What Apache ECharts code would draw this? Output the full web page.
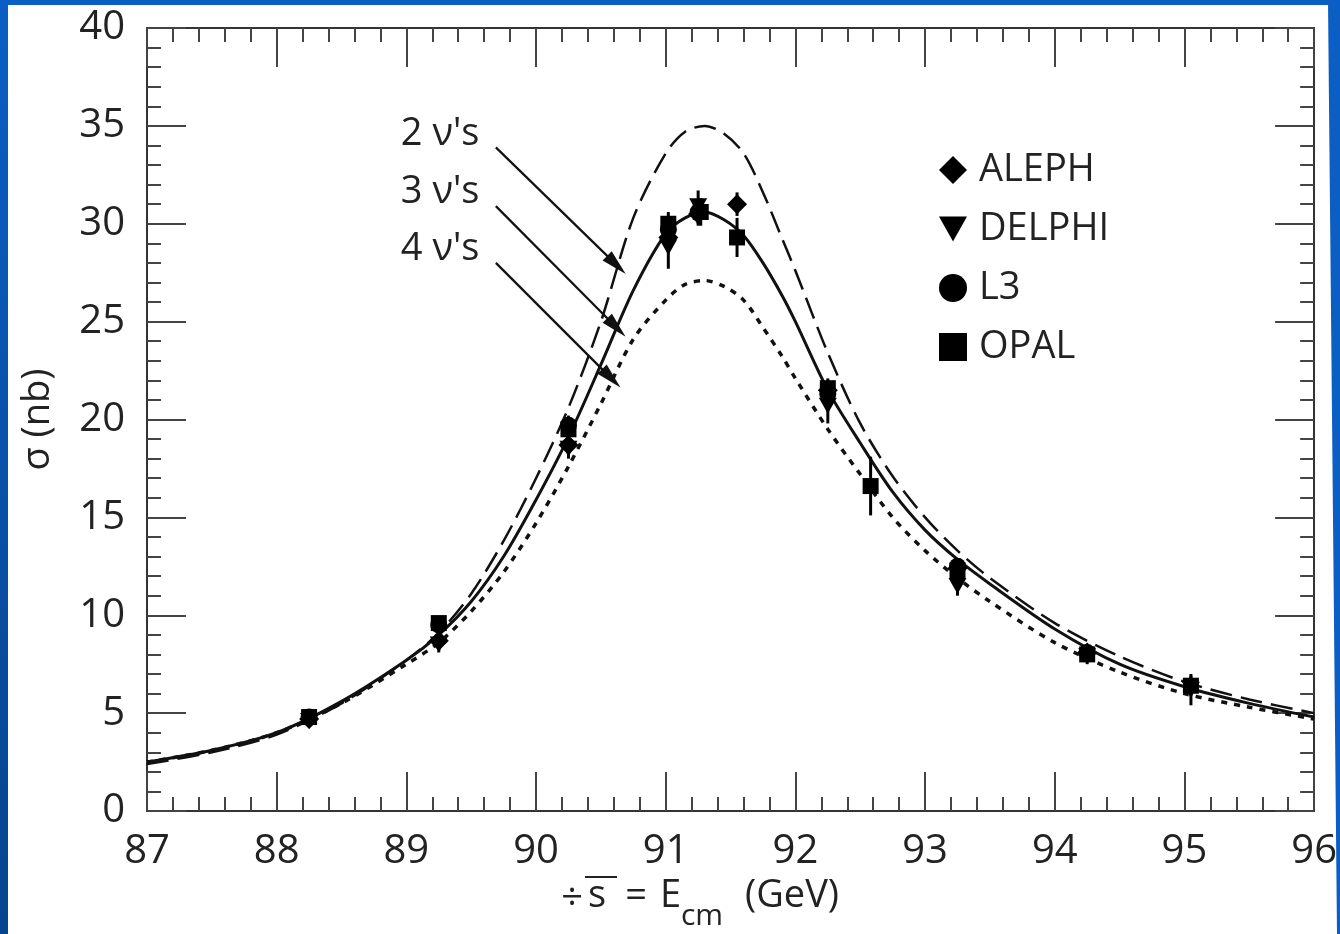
<!DOCTYPE html>
<html><head><meta charset="utf-8">
<script src="https://cdn.jsdelivr.net/npm/echarts@6/dist/echarts.min.js"></script>
<style>html,body{margin:0;padding:0;background:#fff;}#c{width:1340px;height:934px;}</style>
</head><body><div id="c"></div>
<script>
// Energy grid (GeV) for the theory curves
const energyGrid = [87, 87.5, 88, 88.5, 89, 89.25, 89.5, 89.75, 90, 90.25, 90.5, 90.75, 91, 91.15, 91.3, 91.45, 91.6, 91.75, 91.9, 92, 92.25, 92.5, 92.75, 93, 93.25, 93.5, 94, 94.5, 95, 95.5, 96];
// Cross sections (nb) for 2, 3, 4 neutrino species
const sigma2nu = [2.4, 3.0, 3.9, 5.5, 7.7, 9.1, 11.1, 13.8, 17.0, 20.6, 25.0, 30.3, 33.6, 34.7, 35.0, 34.6, 33.6, 31.6, 29.2, 27.6, 23.4, 19.8, 17.1, 15.0, 13.3, 11.9, 9.6, 7.9, 6.6, 5.7, 5.0];
const sigma3nu = [2.5, 3.1, 4.0, 5.6, 7.7, 9.0, 10.7, 13.0, 15.9, 19.1, 22.8, 26.6, 29.5, 30.3, 30.6, 30.2, 29.4, 28.0, 26.3, 25.0, 21.5, 18.8, 16.3, 14.35, 12.85, 11.6, 9.3, 7.5, 6.35, 5.5, 4.8];
const sigma4nu = [2.5, 3.1, 4.0, 5.5, 7.5, 8.6, 10.2, 12.2, 14.7, 17.6, 20.8, 24.1, 26.1, 26.9, 27.1, 26.8, 26.1, 24.7, 23.2, 22.1, 19.5, 17.2, 15.0, 13.3, 11.9, 10.7, 8.6, 7.1, 6.0, 5.3, 4.7];

// Measurements: [E (GeV), sigma (nb), error (nb)]
const aleph = [[88.25, 4.7, 0.25], [89.25, 8.7, 0.35], [90.25, 18.7, 0.5], [91.02, 29.3, 0.6], [91.25, 30.5, 0.6], [91.55, 31.0, 0.6], [92.25, 21.5, 0.5], [93.25, 12.4, 0.4], [94.25, 8.1, 0.35]];
const delphi = [[88.25, 4.6, 0.3], [89.25, 8.5, 0.4], [90.25, 18.5, 0.5], [91.02, 28.8, 1.1], [91.25, 30.9, 0.8], [92.25, 20.7, 0.9], [93.25, 11.5, 0.5], [94.25, 7.9, 0.4], [95.05, 6.2, 0.8]];
const l3 = [[88.25, 4.8, 0.3], [89.25, 9.5, 0.4], [90.25, 19.7, 0.5], [91.02, 29.7, 0.6], [91.25, 30.6, 0.6], [92.25, 21.3, 0.5], [93.25, 12.5, 0.4], [94.25, 8.1, 0.4]];
const opal = [[88.25, 4.8, 0.3], [89.25, 9.6, 0.35], [90.25, 19.5, 0.5], [91.02, 30.0, 0.6], [91.27, 30.6, 0.7], [91.55, 29.3, 1.0], [92.25, 21.6, 0.5], [92.58, 16.6, 1.5], [93.25, 12.3, 0.4], [94.25, 8.0, 0.4], [95.05, 6.4, 0.5]];

const curveLabels = ["2 ν's", "3 ν's", "4 ν's"];
// Annotation arrows (data coords): label position, arrow start, arrow tip
const labelPos = [[89.26, 34.6], [89.26, 31.6], [89.26, 28.7]];
const arrowStart = [[89.69, 33.9], [89.69, 30.9], [89.69, 28.0]];
const arrowTip = [[90.62, 27.9], [90.62, 24.7], [90.58, 22.1]];

const FONT = '"Open Sans", "Noto Sans", sans-serif';
const TXT = '#222';
const triDown = 'path://M0,0L20,0L10,18Z';

const curveXY = arr => energyGrid.map((e, i) => [e, arr[i]]);

function errRender(params, api) {
  const x = api.value(0), y = api.value(1), e = api.value(2);
  const p1 = api.coord([x, y - e]), p2 = api.coord([x, y + e]);
  return {type: 'line', shape: {x1: p1[0], y1: p1[1], x2: p2[0], y2: p2[1]}, style: {stroke: '#000', lineWidth: 3}};
}

function annot(i) {
  return {
    markLine: {
      silent: true, animation: false,
      symbol: ['none', 'triangle'], symbolSize: [13, 26],
      lineStyle: {color: '#111', width: 2.2, type: 'solid'},
      label: {show: false},
      emphasis: {disabled: true},
      data: [[{coord: arrowStart[i]}, {coord: arrowTip[i]}]]
    },
    markPoint: {
      silent: true, animation: false,
      symbol: 'circle', symbolSize: 1,
      itemStyle: {color: 'rgba(0,0,0,0)'},
      label: {show: true, position: 'inside', formatter: curveLabels[i], fontSize: 38, color: TXT, fontFamily: FONT},
      data: [{coord: labelPos[i]}]
    }
  };
}

const axisCommon = {
  type: 'value',
  axisLine: {show: true, onZero: false, lineStyle: {color: '#333', width: 2}},
  axisTick: {show: true, inside: true, length: 39, lineStyle: {color: '#444', width: 2}},
  minorTick: {show: true, splitNumber: 5, length: 14, lineStyle: {color: '#444', width: 2}},
  splitLine: {show: false},
  minorSplitLine: {show: false}
};

const scatterCommon = {type: 'scatter', itemStyle: {color: '#000', opacity: 1}, z: 5};
const errCommon = {type: 'custom', renderItem: errRender, encode: {x: 0, y: 1}, z: 4, silent: true};

function txt(text, x, y, size, align) {
  return {type: 'text', z: 50, style: {text: text, x: x, y: y, align: align || 'left', verticalAlign: 'middle', font: size + 'px ' + FONT, fill: TXT}};
}

const option = {
  animation: false,
  backgroundColor: '#ffffff',
  color: ['#111', '#111', '#111', '#000', '#000', '#000', '#000', '#000', '#000', '#000', '#000'],
  textStyle: {fontFamily: FONT},
  grid: {left: 147, right: 22, top: 28, bottom: 123},
  xAxis: [
    Object.assign({}, axisCommon, {
      position: 'bottom', min: 87, max: 96, interval: 1,
      axisLabel: {fontSize: 40, color: TXT, margin: 21, fontFamily: FONT}
    }),
    Object.assign({}, axisCommon, {
      position: 'top', min: 87, max: 96, interval: 1, axisLabel: {show: false}
    })
  ],
  yAxis: [
    Object.assign({}, axisCommon, {
      position: 'left', min: 0, max: 40, interval: 5,
      axisLabel: {fontSize: 40, color: TXT, margin: 22, fontFamily: FONT},
      name: 'σ (nb)', nameLocation: 'middle', nameGap: 90, nameRotate: 90,
      nameTextStyle: {fontSize: 38, color: TXT, fontFamily: FONT}
    }),
    Object.assign({}, axisCommon, {
      position: 'right', min: 0, max: 40, interval: 5, axisLabel: {show: false}
    })
  ],
  legend: {
    orient: 'vertical', left: 934, top: 145,
    itemWidth: 28, itemHeight: 28, itemGap: 19,
    itemStyle: {color: '#000', opacity: 1},
    textStyle: {fontSize: 38, color: TXT, fontFamily: FONT, lineHeight: 40, padding: [0, 0, 0, 7]},
    data: [
      {name: 'ALEPH', icon: 'diamond'},
      {name: 'DELPHI', icon: triDown},
      {name: 'L3', icon: 'circle'},
      {name: 'OPAL', icon: 'rect'}
    ],
    selectedMode: false
  },
  graphic: [
    {type: 'rect', shape: {x: 0, y: 0, width: 1340, height: 5}, style: {fill: '#0a5ec4'}, z: 100},
    {type: 'rect', shape: {x: 0, y: 0, width: 8, height: 934},
      style: {fill: new echarts.graphic.LinearGradient(0, 0, 0, 1, [{offset: 0, color: '#0a5ec4'}, {offset: 1, color: '#07448e'}])}, z: 100},
    {type: 'polygon', shape: {points: [[1328, 0], [1340, 0], [1340, 934], [1337, 934]]}, style: {fill: '#0a5ec4'}, z: 100},
    txt('÷', 572, 899, 38, 'center'),
    txt('s', 588, 896, 38, 'left'),
    txt('=', 636, 896, 38, 'center'),
    txt('E', 660, 896, 38, 'left'),
    txt('cm', 681, 916, 30, 'left'),
    txt('(GeV)', 745, 896, 38, 'left'),
    {type: 'line', z: 50, shape: {x1: 585, y1: 877, x2: 617, y2: 877}, style: {stroke: TXT, lineWidth: 2}}
  ],
  series: [
    Object.assign({type: 'line', name: '2nu', data: curveXY(sigma2nu), showSymbol: false, smooth: 0.3, silent: true,
      lineStyle: {color: '#111', width: 2.5, type: [22, 9]}, z: 3}, annot(0)),
    Object.assign({type: 'line', name: '3nu', data: curveXY(sigma3nu), showSymbol: false, smooth: 0.3, silent: true,
      lineStyle: {color: '#111', width: 3, type: 'solid'}, z: 3}, annot(1)),
    Object.assign({type: 'line', name: '4nu', data: curveXY(sigma4nu), showSymbol: false, smooth: 0.3, silent: true,
      lineStyle: {color: '#111', width: 3.5, type: [6, 7]}, z: 3}, annot(2)),
    Object.assign({}, errCommon, {name: 'ALEPH_err', data: aleph}),
    Object.assign({}, errCommon, {name: 'DELPHI_err', data: delphi}),
    Object.assign({}, errCommon, {name: 'L3_err', data: l3}),
    Object.assign({}, errCommon, {name: 'OPAL_err', data: opal}),
    Object.assign({}, scatterCommon, {name: 'ALEPH', symbol: 'diamond', symbolSize: 20, data: aleph}),
    Object.assign({}, scatterCommon, {name: 'DELPHI', symbol: triDown, symbolSize: [18, 16], data: delphi}),
    Object.assign({}, scatterCommon, {name: 'L3', symbol: 'circle', symbolSize: 17, data: l3}),
    Object.assign({}, scatterCommon, {name: 'OPAL', symbol: 'rect', symbolSize: 16, data: opal})
  ]
};

const chart = echarts.init(document.getElementById('c'), null, {renderer: 'canvas'});
chart.setOption(option);
</script>
</body></html>
